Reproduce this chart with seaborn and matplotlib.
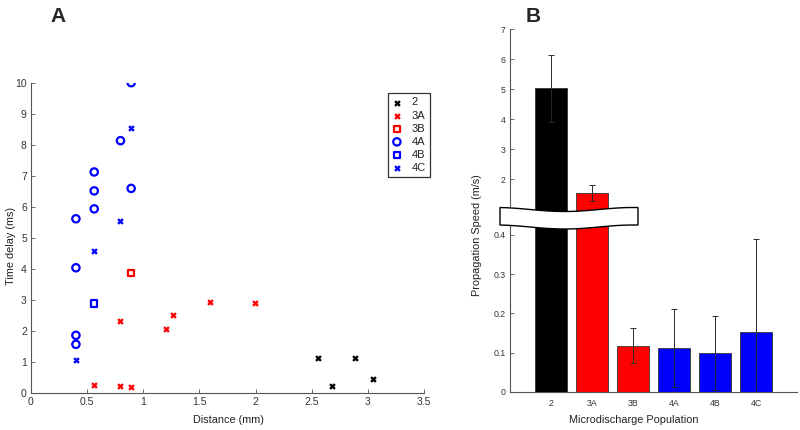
import numpy as np
import pandas as pd
import matplotlib
matplotlib.use("Agg")
import matplotlib.pyplot as plt
from matplotlib.patches import Polygon
import seaborn as sns

# ---------------- data ----------------
x_2 = [2.56, 2.885, 2.68, 3.045]
y_2 = [1.12, 1.12, 0.215, 0.44]
x_3A = [0.563, 0.797, 0.892, 0.797, 1.198, 1.263, 1.598, 1.998]
y_3A = [0.247, 0.237, 0.194, 2.31, 2.075, 2.516, 2.935, 2.914]
x_3B = [0.889]
y_3B = [3.86]
x_4A = [0.892, 0.797, 0.563, 0.563, 0.892, 0.563, 0.40, 0.40, 0.40, 0.40]
y_4A = [10.01, 8.14, 7.13, 6.52, 6.60, 5.94, 5.62, 4.04, 1.86, 1.57]
x_4B = [0.563]
y_4B = [2.89]
x_4C = [0.892, 0.797, 0.563, 0.40]
y_4C = [8.56, 5.55, 4.59, 1.05]

populations = ["2", "3A", "3B", "4A", "4B", "4C"]
speed_mean = [5.03, 1.55, 0.117, 0.112, 0.099, 0.152]
speed_err = [1.13, 0.27, 0.045, 0.099, 0.094, 0.238]
bar_colors = ["#000000", "#ff0000", "#ff0000", "#0000ff", "#0000ff", "#0000ff"]

xticks_a = [0, 0.5, 1, 1.5, 2, 2.5, 3, 3.5]
xticklabels_a = ["0", "0.5", "1", "1.5", "2", "2.5", "3", "3.5"]
yticks_a = list(range(0, 11))
yticks_top = [2, 3, 4, 5, 6, 7]
yticks_bot = [0, 0.1, 0.2, 0.3, 0.4]
yticklabels_bot = ["0", "0.1", "0.2", "0.3", "0.4"]

# ---------------- style ----------------
sns.set_style("ticks")
plt.rcParams["font.family"] = ["Liberation Sans", "DejaVu Sans"]
spine_c = "#555555"
tick_c = "#333333"
lab_c = "#222222"

W, H = 800, 430
fig = plt.figure(figsize=(8, 4.3), dpi=100)


def fr(left, top, right, bottom):
    return [left / W, 1 - bottom / H, (right - left) / W, (bottom - top) / H]


def style_axis(ax, size):
    for s in ["top", "right"]:
        ax.spines[s].set_visible(False)
    for s in ["left", "bottom"]:
        ax.spines[s].set_color(spine_c)
        ax.spines[s].set_linewidth(0.8)
    ax.tick_params(direction="in", length=3, width=0.6, colors=spine_c,
                   labelcolor=tick_c, labelsize=size, pad=3)


# ---------------- panel A ----------------
axA = fig.add_axes(fr(31, 83, 424, 393))
style_axis(axA, 7.5)

groups = [
    (x_2, y_2, "2", "x", "black", True),
    (x_3A, y_3A, "3A", "x", "red", True),
    (x_3B, y_3B, "3B", "s", "red", False),
    (x_4A, y_4A, "4A", "o", "blue", False),
    (x_4B, y_4B, "4B", "s", "blue", False),
    (x_4C, y_4C, "4C", "x", "blue", True),
]
for xs, ys, lab, mk, col, lineart in groups:
    df = pd.DataFrame({"x": xs, "y": ys})
    if lineart:
        sns.scatterplot(data=df, x="x", y="y", marker=mk, color=col,
                        linewidth=1.7, s=12, ax=axA, label=lab, zorder=3)
    else:
        sns.scatterplot(data=df, x="x", y="y", marker=mk, facecolors="none",
                        edgecolor=col, color=col, linewidth=1.6,
                        s=20 if mk == "s" else 28, ax=axA, label=lab, zorder=3)

axA.set_xlim(0, 3.5)
axA.set_ylim(0, 10)
axA.set_xticks(xticks_a)
axA.set_xticklabels(xticklabels_a)
axA.set_yticks(yticks_a)
axA.set_xlabel("")
axA.set_ylabel("")
fig.text(228 / W, 1 - 420 / H, "Distance (mm)", fontsize=7.8, color=lab_c,
         ha="center", va="center")
fig.text(11 / W, 1 - 246 / H, "Time delay (ms)", fontsize=7.8, color=lab_c,
         rotation=90, ha="center", va="center")

leg = axA.legend(loc="upper left", bbox_to_anchor=(388 / W, 1 - 93 / H),
                 bbox_transform=fig.transFigure, fontsize=8, frameon=True,
                 fancybox=False, edgecolor="black", handlelength=0.8,
                 handletextpad=0.9, borderpad=0.4, labelspacing=0.28,
                 borderaxespad=0)
leg.get_frame().set_linewidth(0.9)
for t in leg.get_texts():
    t.set_color(lab_c)

fig.text(58 / W, 1 - 16 / H, "A", fontsize=15, fontweight="bold",
         ha="center", va="center")
fig.text(533 / W, 1 - 16 / H, "B", fontsize=15, fontweight="bold",
         ha="center", va="center")

# ---------------- panel B (broken axis) ----------------
bar_df = pd.DataFrame({"pop": populations, "speed": speed_mean})
pal = dict(zip(populations, bar_colors))

axT = fig.add_axes(fr(510, 29.3, 797, 215.3))
axB = fig.add_axes(fr(510, 215.3, 797, 391.7))

for ax in (axT, axB):
    sns.barplot(data=bar_df, x="pop", y="speed", hue="pop", palette=pal,
                order=populations, hue_order=populations, legend=False,
                width=0.8, saturation=1, edgecolor="#333333", linewidth=0.6,
                errorbar=None, ax=ax)
    ax.errorbar(np.arange(len(populations)), speed_mean, yerr=speed_err,
                fmt="none", ecolor="#2a2a2a", elinewidth=0.7, capsize=2,
                capthick=0.7, zorder=4)
    style_axis(ax, 6.3)
    ax.set_xlim(-1, 6)
    ax.set_xlabel("")
    ax.set_ylabel("")

axT.set_ylim(0.8, 7)
axT.set_yticks(yticks_top)
axT.spines["bottom"].set_visible(False)
axT.tick_params(axis="x", bottom=False, labelbottom=False)

axB.set_ylim(0, 0.45)
axB.set_yticks(yticks_bot)
axB.set_yticklabels(yticklabels_bot)
axB.tick_params(axis="x", length=0, pad=5)

fig.text(634 / W, 1 - 420 / H, "Microdischarge Population", fontsize=7.8,
         color=lab_c, ha="center", va="center")
fig.text(477 / W, 1 - 235 / H, "Propagation Speed (m/s)", fontsize=7.8,
         color=lab_c, rotation=90, ha="center", va="center")

# break band
xs_b = np.linspace(500, 638, 60)
top_y = 209.5 + 2.0 * np.sin(2 * np.pi * (xs_b - 530) / 138)
bot_y = top_y + 17.5
pts = np.vstack([np.column_stack([xs_b, top_y]),
                 np.column_stack([xs_b[::-1], bot_y[::-1]])])
pts_fig = np.column_stack([pts[:, 0] / W, 1 - pts[:, 1] / H])
band = Polygon(pts_fig, closed=True, facecolor="white", edgecolor="black",
               linewidth=1.0, transform=fig.transFigure, zorder=10)
fig.add_artist(band)

fig.savefig("out.png", dpi=100)
